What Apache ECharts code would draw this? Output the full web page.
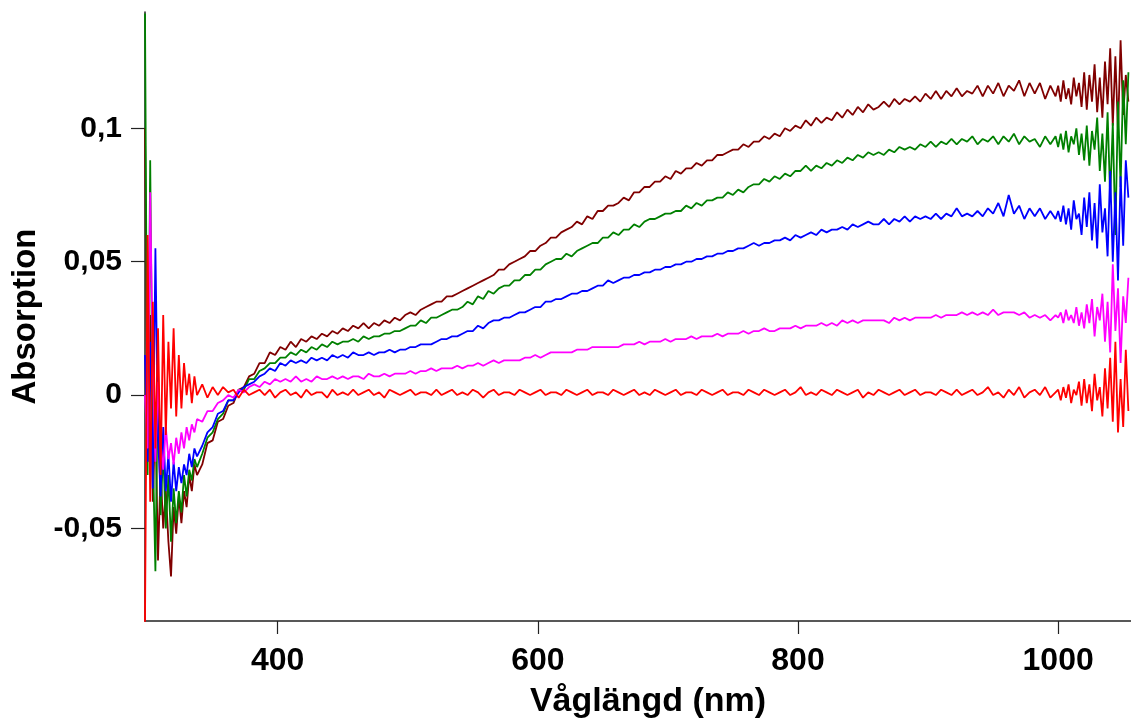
<!DOCTYPE html>
<html>
<head>
<meta charset="utf-8">
<script src="https://cdn.jsdelivr.net/npm/echarts@6/dist/echarts.min.js"></script>
<style>
html,body{margin:0;padding:0;background:#fff;}
#chart{width:1131px;height:719px;}
</style>
</head>
<body>
<div id="chart"></div>
<script>
// Wavelengths (nm)
const wavelengths = [
  298,300,302,304,306,308,310,312,314,316,
  318,320,322,324,326,328,330,332,334,336,
  338,
  342,346,350,354,358,362,366,370,374,378,
  382,386,390,394,398,402,406,410,414,418,
  422,426,430,434,438,442,446,450,454,458,
  462,466,470,474,478,482,486,490,494,498,
  502,506,510,514,518,522,526,530,534,538,
  542,546,550,554,558,562,566,570,574,578,
  582,586,590,594,598,602,606,610,614,618,
  622,626,630,634,638,642,646,650,654,658,
  662,666,670,674,678,682,686,690,694,698,
  702,706,710,714,718,722,726,730,734,738,
  742,746,750,754,758,762,766,770,774,778,
  782,786,790,794,798,802,806,810,814,818,
  822,826,830,834,838,842,846,850,854,858,
  862,866,870,874,878,882,886,890,894,898,
  902,906,910,914,918,922,926,930,934,938,
  942,946,950,954,958,962,966,970,974,978,
  982,986,990,994,998,
  1000,1002,1004,1006,1008,1010,1012,1014,1016,1018,
  1020,1022,1024,1026,1028,1030,1032,1034,1036,1038,
  1040,1042,1044,1046,1048,1050,1052,1054
];

// Absorption values in milli-units (x 0.001)
const maroonMilli = [
  100,-25,30,-40,-8,-62,-28,-50,-36,-55,
  -68,-42,-52,-38,-48,-36,-42,-30,-36,-26,
  -30,
  -26,-18,-17,-10,-9,-4,-3,2,3,7,
  8,12,12,16,15,18,17,20,18,21,
  20,22,21,23,22,24,23,25,24,26,
  25,27,25,27,26,28,27,29,28,30,
  31,30,32,33,34,35,35,37,37,38,
  39,40,41,42,43,44,45,47,47,49,
  50,51,52,54,54,56,57,59,59,61,
  62,63,65,64,67,66,69,69,71,71,
  72,74,73,76,76,78,78,80,80,82,
  81,84,83,85,85,87,86,88,88,90,
  90,91,92,92,94,93,95,95,97,96,
  98,97,100,99,101,100,103,101,104,102,
  104,103,106,104,107,105,108,106,109,107,
  108,110,108,111,109,111,110,112,110,113,
  111,114,111,114,112,115,112,114,113,116,
  112,116,113,117,112,116,114,118,112,117,
  113,117,111,116,112,
  116,110,118,111,115,109,119,112,117,108,
  121,107,120,110,124,106,119,104,125,109,
  130,101,127,99,133,105,120,110
];
const greenMilli = [
  143,-30,88,-20,-66,10,-45,-20,-50,-30,
  -55,-35,-48,-36,-44,-30,-38,-28,-32,-24,
  -27,
  -22,-16,-14,-9,-7,-2,-2,2,2,6,
  6,9,10,12,12,14,14,16,15,17,
  16,18,17,19,18,20,19,20,20,21,
  20,22,21,22,22,23,23,24,24,25,
  26,26,28,27,29,29,30,31,32,32,
  33,35,34,37,36,39,38,40,41,41,
  43,43,45,45,47,47,49,50,51,51,
  53,52,54,55,56,57,57,59,59,61,
  60,62,62,64,63,65,66,66,67,68,
  68,69,69,71,70,72,71,73,73,74,
  74,76,75,77,76,78,79,79,81,80,
  82,81,83,82,84,84,86,84,86,85,
  87,86,88,87,89,88,90,89,91,90,
  91,90,92,91,93,92,93,92,94,93,
  95,93,95,94,96,94,96,95,97,94,
  96,95,97,94,97,95,98,94,97,95,
  96,93,97,94,97,
  93,98,92,99,91,97,94,100,90,98,
  88,101,86,99,92,104,84,98,80,106,
  74,102,60,110,78,118,94,121
];
const blueMilli = [
  15,-25,20,-35,55,-15,-38,-12,-36,-22,
  -40,-25,-36,-27,-33,-26,-30,-22,-27,-20,
  -23,
  -19,-14,-12,-7,-6,-2,-2,1,3,4,
  5,7,8,10,9,12,11,13,12,13,
  12,14,13,14,13,15,14,15,14,16,
  15,15,16,15,16,16,17,16,17,17,
  18,18,19,19,19,20,21,21,22,22,
  23,24,24,26,25,27,28,28,29,29,
  30,31,31,32,33,33,35,35,36,36,
  37,38,38,39,39,40,41,41,43,42,
  43,44,44,45,45,46,46,47,47,48,
  48,49,49,50,50,51,51,52,52,53,
  53,54,54,55,55,56,57,56,57,57,
  58,58,59,58,60,59,60,61,60,62,
  61,62,62,63,62,64,63,64,65,64,
  64,66,64,66,65,67,65,67,66,67,
  66,68,66,68,67,70,67,68,67,69,
  67,70,68,72,67,75,68,71,66,70,
  67,70,66,69,66,
  69,65,71,64,70,62,73,66,68,60,
  74,63,76,58,72,55,79,61,70,52,
  84,50,76,43,82,56,88,74
];
const magentaMilli = [
  0,-20,76,10,-25,5,-18,-28,-12,-24,
  -18,-26,-16,-22,-14,-20,-12,-17,-11,-14,
  -9,
  -10,-6,-6,-3,-2,0,-1,2,1,3,
  4,3,5,4,6,5,6,5,7,5,
  6,5,7,6,6,7,6,7,6,7,
  7,6,8,7,7,8,7,8,8,8,
  9,8,9,9,10,9,10,10,10,11,
  10,11,11,12,11,12,13,12,13,13,
  13,13,14,14,15,14,15,16,16,16,
  16,16,17,17,17,18,18,18,18,18,
  18,19,19,19,20,19,20,20,20,21,
  20,21,21,21,22,21,22,22,22,23,
  22,23,23,23,24,23,24,24,25,24,
  24,25,25,25,26,25,26,26,26,27,
  26,27,26,28,27,28,27,28,28,28,
  28,28,27,29,28,29,28,29,29,29,
  29,30,29,30,30,30,31,30,31,30,
  31,30,32,30,31,31,31,30,31,29,
  30,29,30,28,30,
  29,31,27,32,28,30,27,33,26,31,
  25,34,27,36,22,33,28,38,20,35,
  16,49,24,40,12,37,27,44
];
const redMilli = [
  -85,60,-40,35,-20,25,-30,30,-15,20,
  -5,25,-8,15,-5,12,0,8,-3,7,
  0,
  4,-1,3,0,3,1,2,-1,2,0,
  1,2,0,2,-1,1,2,0,1,-1,
  2,0,1,1,-1,2,0,1,0,2,
  0,1,2,0,1,-1,2,1,0,1,
  2,0,1,1,0,2,0,1,2,0,
  1,0,2,1,-1,1,2,0,1,1,
  0,2,1,0,1,2,0,1,1,0,
  2,1,0,1,2,0,1,1,0,2,
  1,0,1,2,0,1,0,2,1,0,
  1,2,0,1,1,0,2,1,0,1,
  2,0,1,1,0,2,1,0,2,1,
  0,1,2,0,1,3,0,1,0,2,
  1,0,2,1,0,1,2,-1,1,0,
  2,1,0,1,2,0,1,2,0,1,
  1,0,2,1,0,2,0,1,2,0,
  1,3,0,1,-1,2,0,3,-1,1,
  2,0,3,-1,1,
  2,-2,3,-1,4,-3,2,0,5,-4,
  6,-3,4,-6,8,-2,3,-8,10,-5,
  14,-10,20,-14,6,-12,17,-6
];

const xTicks = [400, 600, 800, 1000];
const yTicks = [-0.05, 0, 0.05, 0.1];

const seriesDefs = [
  { name: 'A', values: maroonMilli, color: '#800000' },
  { name: 'B', values: greenMilli, color: '#008000' },
  { name: 'C', values: blueMilli, color: '#0000ff' },
  { name: 'D', values: magentaMilli, color: '#ff00ff' },
  { name: 'E', values: redMilli, color: '#ff0000' }
];

const font = '"Liberation Sans", Arial, sans-serif';
const chart = echarts.init(document.getElementById('chart'), null, { renderer: 'canvas' });

chart.setOption({
  animation: false,
  backgroundColor: '#ffffff',
  grid: { left: 145, right: 0, top: 12, bottom: 98, containLabel: false, outerBoundsMode: 'none' },
  xAxis: {
    type: 'value',
    min: 298,
    max: 1056,
    name: 'Våglängd (nm)',
    nameLocation: 'middle',
    nameGap: 64,
    nameTextStyle: { fontSize: 34, fontWeight: 'bold', color: '#000', fontFamily: font, padding: [0, 0, 0, 20] },
    axisLine: { show: true, onZero: false, lineStyle: { color: '#222', width: 1.5 } },
    axisTick: { show: true, length: 13, customValues: xTicks, lineStyle: { color: '#222', width: 1.2 } },
    axisLabel: {
      customValues: xTicks, fontSize: 32, fontWeight: 'bold', color: '#000', fontFamily: font, margin: 24,
      formatter: v => String(v)
    },
    splitLine: { show: false }
  },
  yAxis: {
    type: 'value',
    min: -0.0847,
    max: 0.1436,
    name: 'Absorption',
    nameLocation: 'middle',
    nameGap: 102,
    nameRotate: 90,
    nameTextStyle: { fontSize: 33, fontWeight: 'bold', color: '#000', fontFamily: font },
    axisLine: { show: true, onZero: false, lineStyle: { color: '#222', width: 1.5 } },
    axisTick: { show: true, length: 14, customValues: yTicks, lineStyle: { color: '#222', width: 1.2 } },
    axisLabel: {
      customValues: yTicks,
      fontSize: 30, fontWeight: 'bold', color: '#000', fontFamily: font, margin: 23,
      formatter: v => String(v).replace('.', ',')
    },
    splitLine: { show: false }
  },
  series: seriesDefs.map(s => ({
    name: s.name,
    type: 'line',
    showSymbol: false,
    symbol: 'none',
    clip: true,
    lineStyle: { color: s.color, width: 1.8 },
    itemStyle: { color: s.color },
    data: wavelengths.map((w, i) => [w, s.values[i] / 1000])
  }))
});
</script>
</body>
</html>
